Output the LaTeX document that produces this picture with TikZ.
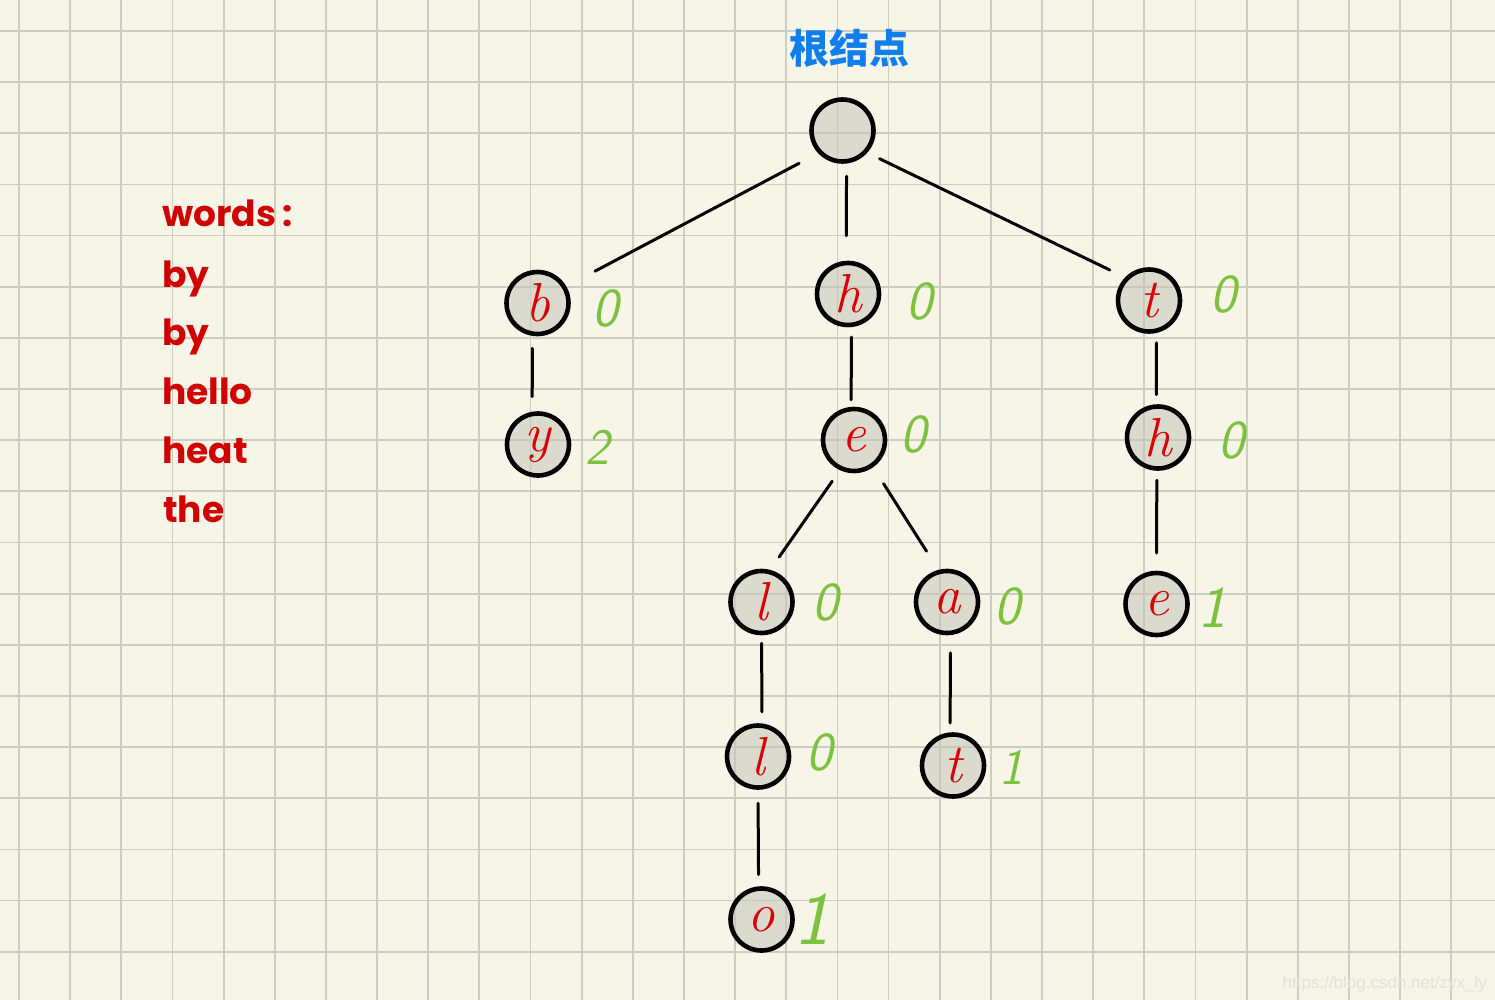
\documentclass[tikz,border=0pt]{standalone}
\usepackage{fontspec}
\newfontfamily\wordsfont{Poppins}
\newfontfamily\cjkfont{Noto Sans CJK SC}
\newfontfamily\wmfont{Liberation Sans}
\definecolor{bg}{HTML}{F7F5E8}
\definecolor{gridc}{HTML}{CDCEC3}
\definecolor{nodegray}{HTML}{C3C4BA}
\definecolor{letterred}{HTML}{D90000}
\definecolor{wordred}{HTML}{D00000}
\definecolor{cntgreen}{HTML}{7DC23E}
\definecolor{titleblue}{HTML}{0F7FEF}
\definecolor{wmc}{HTML}{E2E2DA}
\begin{document}
\begin{tikzpicture}[x=1pt,y=-1pt,
  gridline/.style={draw=gridc, line width=1.8pt},
  tnode/.style={circle, draw=black, line width=4.6pt, minimum size=62pt, inner sep=0pt,
    fill=nodegray, fill opacity=0.55, text opacity=1, text=letterred,
    font=\fontsize{55}{55}\selectfont\itshape},
  cnt/.style={text=cntgreen, inner sep=0pt, font=\fontsize{55}{55}\selectfont\sffamily\itshape},
  tedge/.style={line width=3pt, line cap=round},
  word/.style={anchor=base west, inner sep=0pt, text=wordred, font=\fontsize{36}{36}\selectfont\wordsfont\bfseries}]
\fill[bg] (0,0) rectangle (1495,1000);
\useasboundingbox (0,0) rectangle (1495,1000);
\foreach \i in {0,...,28} \draw[gridline] ({19+51.15*\i},0) -- ({19+51.15*\i},1000);
\foreach \j in {0,...,18} \draw[gridline] (0,{31+51.15*\j}) -- (1495,{31+51.15*\j});

% title
\node[text=titleblue, inner sep=0pt, font=\fontsize{40}{40}\selectfont\cjkfont\bfseries] (title) at (849.5,48.5) {根结点};

% words list
\node[word] (w0) at (162,227) {words\,:};
\node[word] (w1) at (162,287) {by};
\node[word] (w2) at (162,345) {by};
\node[word] (w3) at (162,404) {hello};
\node[word] (w4) at (162,463) {heat};
\node[word] (w5) at (163,522) {the};

% tree nodes
\node[tnode] (r)  at (842.5,130.5) {};
\node[tnode] (b)  at (537.5,303) {b};
\node[tnode] (y)  at (538,444.5) {y};
\node[tnode] (h)  at (848,294) {h};
\node[tnode] (e)  at (854,440) {e};
\node[tnode] (l1) at (761.5,602) {l};
\node[tnode] (l2) at (758,756.5) {l};
\node[tnode] (o)  at (761.5,919.5) {o};
\node[tnode] (a)  at (947,602) {a};
\node[tnode] (ta) at (953,765.5) {t};
\node[tnode] (t)  at (1149,300.5) {t};
\node[tnode] (h2) at (1158,437.5) {h};
\node[tnode] (e2) at (1156.5,604) {e};

% counts
\node[cnt] (cb)  at (605,308) {0};
\node[cnt, font=\fontsize{51}{51}\selectfont\sffamily\itshape] (cy) at (597.5,447.5) {2};
\node[cnt] (ch)  at (919.5,301) {0};
\node[cnt] (ce)  at (913,434.5) {0};
\node[cnt] (cl1) at (825,602.5) {0};
\node[cnt] (cl2) at (819,752) {0};
\node[cnt, font=\fontsize{75}{75}\selectfont\sffamily\itshape] (co) at (812.5,919) {1};
\node[cnt] (ca)  at (1007.5,606.5) {0};
\node[cnt, font=\fontsize{51}{51}\selectfont\sffamily\itshape] (cta) at (1011.5,767.5) {1};
\node[cnt] (ct)  at (1223,294.5) {0};
\node[cnt] (ch2) at (1231,440.5) {0};
\node[cnt, font=\fontsize{59}{59}\selectfont\sffamily\itshape] (ce2) at (1212,607.5) {1};

% edges
\draw[tedge, shorten <=21.5pt, shorten >=32.4pt] (r.223.5) -- (b.30.3);
\draw[tedge, shorten <=12.7pt, shorten >=25pt] (r.-83.9) -- (h.93.5);
\draw[tedge, shorten <=13.7pt, shorten >=16.9pt] (r.-42.4) -- (t.136.2);
\draw[tedge, shorten <=12.5pt, shorten >=15pt] (b.-99.6) -- (y.100.5);
\draw[tedge, shorten <=10pt, shorten >=7pt] (h.-84.8) -- (e.95.2);
\draw[tedge, shorten <=13.5pt, shorten >=15.6pt] (e.-115.5) -- (l1.75.1);
\draw[tedge, shorten <=19.4pt, shorten >=22.1pt] (e.-55.1) -- (a.105.8);
\draw[tedge, shorten <=8pt, shorten >=11.7pt] (l1.-90) -- (l2.83.6);
\draw[tedge, shorten <=13.5pt, shorten >=11.7pt] (l2.-90) -- (o.95.6);
\draw[tedge, shorten <=17.8pt, shorten >=9.3pt] (a.-84.8) -- (ta.95.2);
\draw[tedge, shorten <=10pt, shorten >=9.6pt] (t.-77.8) -- (h2.93.5);
\draw[tedge, shorten <=9.5pt, shorten >=17.7pt] (h2.-92.3) -- (e2.90);

% watermark
\node[anchor=base east, inner sep=0pt, text=wmc, font=\fontsize{17}{17}\selectfont\wmfont] (wm) at (1487,988) {https://blog.csdn.net/zyx\_ly};
\end{tikzpicture}
\end{document}
